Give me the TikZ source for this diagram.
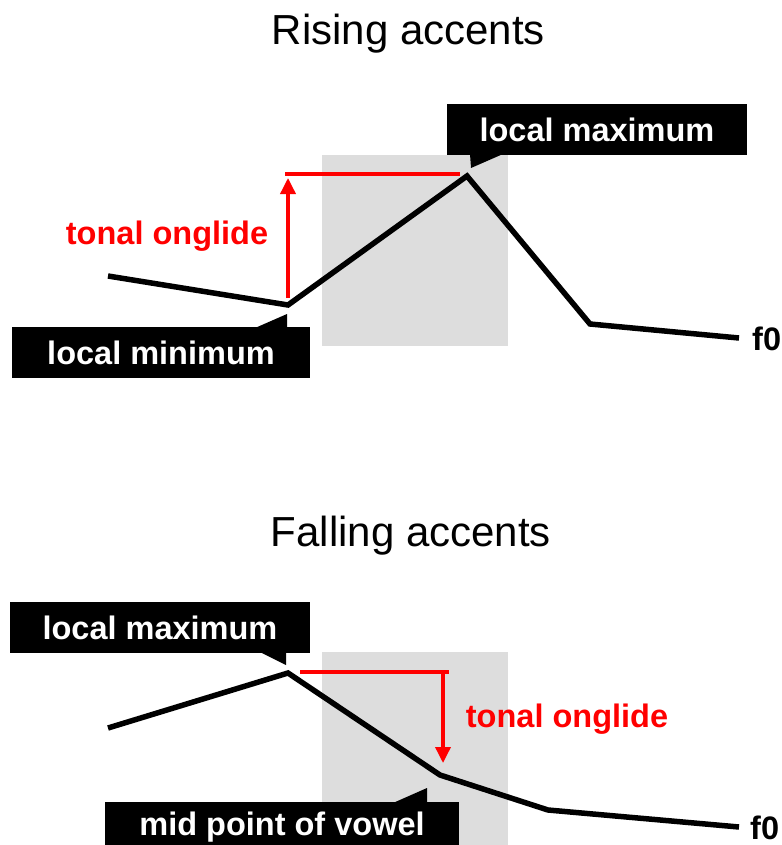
\documentclass[tikz,border=0pt]{standalone}
\usepackage{fontspec}
\setmainfont{Liberation Sans}
\usetikzlibrary{arrows.meta}
\definecolor{vgray}{RGB}{221,221,221}
\definecolor{tred}{RGB}{255,0,0}
\begin{document}
\begin{tikzpicture}[x=1pt,y=-1pt,
  titlelab/.style={font=\fontsize{42}{50}\selectfont,inner sep=0pt,anchor=base},
  boxlab/.style={fill=black,text=white,font=\bfseries\fontsize{32.5}{39}\selectfont,inner sep=0pt,text height=23.5pt,text depth=0pt},
  redlab/.style={text=tred,font=\bfseries\fontsize{32.5}{39}\selectfont,inner sep=0pt,anchor=base},
  flab/.style={font=\bfseries\fontsize{32.5}{39}\selectfont,inner sep=0pt,anchor=base west},
  fzero/.style={line width=5.5pt,line join=miter,line cap=butt},
  onglide/.style={tred,line width=3.5pt},
  arrowtip/.style={-{Triangle[length=16pt,width=15pt]}}
]
\useasboundingbox (0,0) rectangle (781,845);
% ---------- Rising accents ----------
\node[titlelab] (t1) at (408.5,45) {Rising accents};
\fill[vgray] (322,155) rectangle (508,346);
\coordinate (r0) at (108,276);
\coordinate (r1) at (288,305);
\coordinate (r2) at (467,176);
\coordinate (r3) at (590,324);
\coordinate (r4) at (739,338);
\draw[fzero] (r0) -- (r1) -- (r2) -- (r3) -- (r4);
\node[flab] (f1) at (752,350) {f0};
\coordinate (ra0) at (288,298);
\coordinate (ra1) at (288,178);
\coordinate (rh0) at (285,174);
\coordinate (rh1) at (460,174);
\draw[onglide,arrowtip] (ra0) -- (ra1);
\draw[onglide] (rh0) -- (rh1);
\node[redlab] (o1) at (167,244) {tonal onglide};
\node[boxlab,minimum width=300pt,minimum height=51pt] (max1) at (597,129.5) {local maximum};
\fill (470,154) -- (503,154) -- (471,168) -- cycle;
\node[boxlab,minimum width=298pt,minimum height=51pt] (min1) at (161,352.5) {local minimum};
\fill (255,328) -- (287,328) -- (287,314) -- cycle;
% ---------- Falling accents ----------
\node[titlelab] (t2) at (411,546) {Falling accents};
\fill[vgray] (322,652) rectangle (508,845);
\coordinate (s0) at (108,728);
\coordinate (s1) at (288,673);
\coordinate (s2) at (440,775);
\coordinate (s3) at (548,810);
\coordinate (s4) at (739,827);
\draw[fzero] (s0) -- (s1) -- (s2) -- (s3) -- (s4);
\node[flab] (f2) at (750,839) {f0};
\coordinate (sh0) at (300,672);
\coordinate (sh1) at (449,672);
\coordinate (sa0) at (443,672);
\coordinate (sa1) at (443,763);
\draw[onglide] (sh0) -- (sh1);
\draw[onglide,arrowtip] (sa0) -- (sa1);
\node[redlab] (o2) at (567,727) {tonal onglide};
\node[boxlab,minimum width=300pt,minimum height=51pt] (max2) at (160,627.5) {local maximum};
\fill (260,652) -- (286,652) -- (286,665) -- cycle;
\node[boxlab,minimum width=354pt,minimum height=43pt] (mid) at (282,823.5) {mid point of vowel};
\fill (393,803) -- (427,803) -- (427,788) -- cycle;
\end{tikzpicture}
\end{document}
